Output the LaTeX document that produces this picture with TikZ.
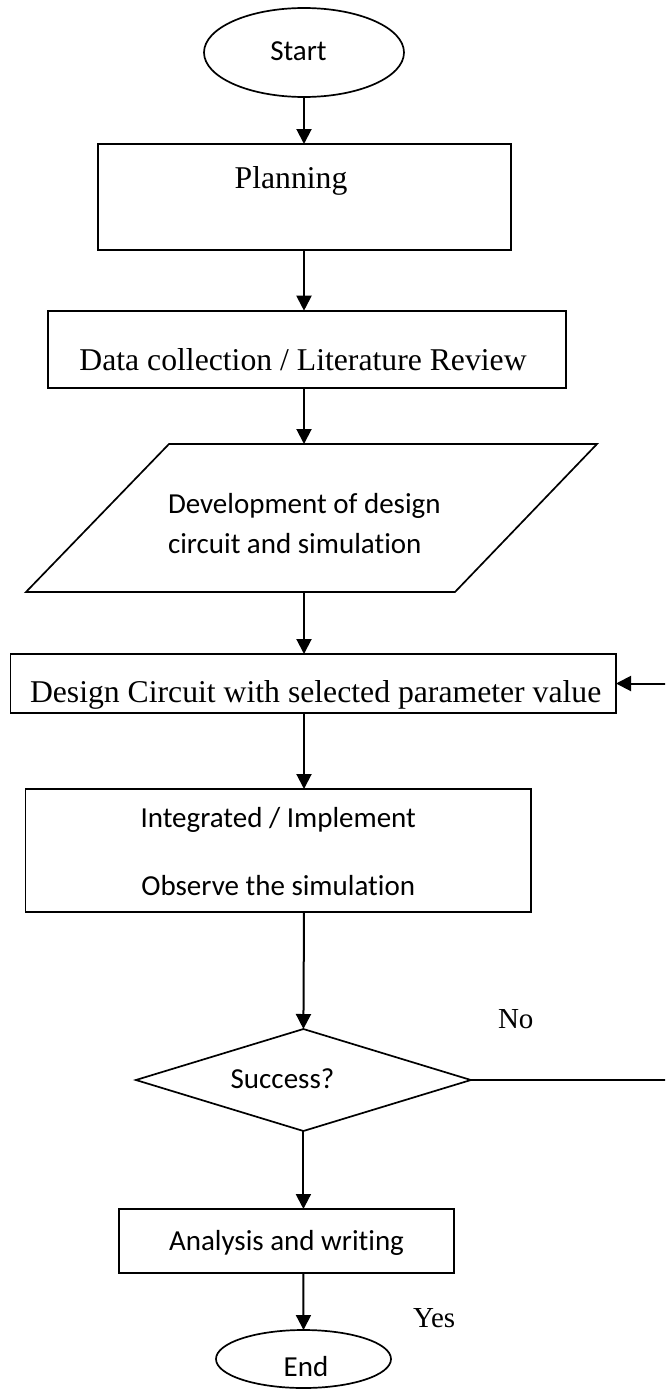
\documentclass[tikz,border=0pt]{standalone}
\usepackage{fontspec}
\setmainfont{Liberation Serif}
\newfontfamily\calibfont[Ligatures=NoCommon]{Carlito}
\usetikzlibrary{arrows.meta,shapes.geometric}

\begin{document}
\begin{tikzpicture}[x=1pt,y=-1pt,
  every node/.style={inner sep=0pt, outer sep=0pt},
  shapeline/.style={draw, line width=1.7pt},
  flow/.style={line width=2pt, -{Triangle[length=15pt,width=15pt]}},
  serifbig/.style={font=\fontsize{31.7}{38}\selectfont},
  serifsmall/.style={font=\fontsize{29}{35}\selectfont},
  sanstext/.style={font=\calibfont\fontsize{29}{40}\selectfont},
]
\useasboundingbox (0,0) rectangle (665,1389);
\clip (0,0) rectangle (665,1389);
\fill[white] (0,0) rectangle (665,1389);

% terminal: start
\node[shapeline, ellipse, minimum width=200pt, minimum height=89pt] (start) at (304,52.5) {};
\node[sanstext, anchor=base] (starttxt) at (298.5,60) {Start};

% planning
\node[shapeline, rectangle, minimum width=413pt, minimum height=106pt] (plan) at (304.2,197) {};
\node[serifbig, anchor=base] (plantxt) at (291,188) {Planning};

% data collection
\node[shapeline, rectangle, minimum width=518pt, minimum height=77.6pt] (data) at (307,349.5) {};
\node[serifbig, anchor=base] (datatxt) at (303,370) {Data collection / Literature Review};

% development (parallelogram)
\draw[shapeline] (169,444) -- (597,444) -- (455,592) -- (26,592) -- cycle;
\coordinate (devtop) at (304,444);
\coordinate (devbot) at (304,592);
\node[sanstext, anchor=base west] (devtxta) at (168,513) {Development of design};
\node[sanstext, anchor=base west] (devtxtb) at (168,553) {circuit and simulation};

% design circuit
\node[shapeline, rectangle, minimum width=605.4pt, minimum height=59pt] (design) at (313.3,683.5) {};
\node[serifbig, anchor=base west] (designtxt) at (30,702) {Design Circuit with selected parameter value};

% integrate / implement
\node[shapeline, rectangle, minimum width=505.6pt, minimum height=123pt] (integ) at (278.2,850.5) {};
\node[sanstext, anchor=base] (integtxta) at (278.2,827) {Integrated / Implement};
\node[sanstext, anchor=base] (integtxtb) at (278.2,895) {Observe the simulation};

% decision
\node[shapeline, diamond, minimum width=335pt, minimum height=102pt] (succ) at (303.4,1080) {};
\node[sanstext, anchor=base] (succtxt) at (282.5,1088) {Success?};

% analysis
\node[shapeline, rectangle, minimum width=335pt, minimum height=64pt] (analysis) at (286.5,1241) {};
\node[sanstext, anchor=base] (analysistxt) at (286.5,1250) {Analysis and writing};

% terminal: end
\node[shapeline, ellipse, minimum width=175pt, minimum height=58pt] (endn) at (303.5,1359) {};
\node[sanstext, anchor=base] (endtxt) at (306,1376) {End};

% branch labels
\node[serifsmall, anchor=base west] (nolbl) at (498,1028) {No};
\node[serifsmall, anchor=base west] (yeslbl) at (413,1327) {Yes};

% connectors
\draw[flow] (start.south) -- (start.south |- plan.north);
\draw[flow] (start.south |- plan.south) -- (start.south |- data.north);
\draw[flow] (start.south |- data.south) -- (devtop);
\draw[flow] (devbot) -- (devbot |- design.north);
\draw[flow] (start.south |- design.south) -- (start.south |- integ.north);
\draw[flow] (start.south |- integ.south) -- (succ.north);
\draw[flow] (succ.south) -- (succ.south |- analysis.north);
\draw[flow] (succ.south |- analysis.south) -- (endn.north);
\draw[flow] (succ.east) -- ++(240,0) |- (design.east);
\end{tikzpicture}
\end{document}
